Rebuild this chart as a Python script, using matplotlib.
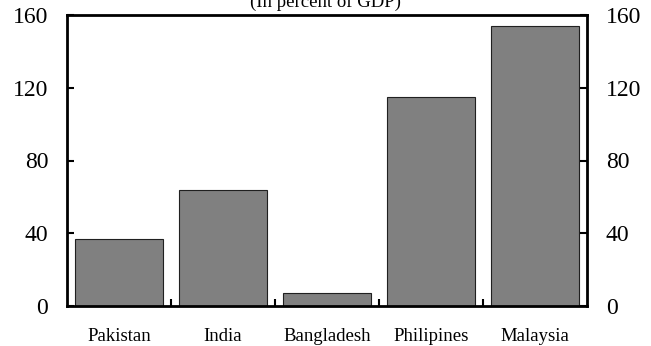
import matplotlib.pyplot as plt
import numpy as np

paises = ["Pakistan", "India", "Bangladesh", "Philipines", "Malaysia"]
valores = [37, 64, 7, 115, 154]
ticks_y = [0, 40, 80, 120, 160]

plt.rcParams["font.family"] = ["Liberation Serif", "DejaVu Serif"]

fig = plt.figure(figsize=(6.51, 3.46), dpi=100)
ax = fig.add_axes([67 / 651, 1 - 306 / 346, 520 / 651, 291 / 346])

x = np.arange(len(paises))
ax.bar(x, valores, width=0.846, color="#808080", edgecolor="#202020", linewidth=0.8)

ax.set_xlim(-0.5, len(paises) - 0.5)
ax.set_ylim(0, 160)
ax.set_yticks(ticks_y)
ax.tick_params(axis="y", direction="in", length=5, width=1.5, labelsize=17,
               left=True, right=True, labelleft=True, labelright=True, pad=13.5)

# categorias no eixo x, marcas entre as barras
ax.set_xticks(x)
ax.set_xticklabels(paises, fontsize=13.5)
ax.tick_params(axis="x", which="major", length=0, pad=16)
ax.set_xticks(x[:-1] + 0.5, minor=True)
ax.tick_params(axis="x", which="minor", direction="in", length=5, width=1.5)

for lado in ["left", "right", "top", "bottom"]:
    ax.spines[lado].set_linewidth(2)

fig.text(0.5, 1 - 7 / 346, "(In percent of GDP)", ha="center", va="baseline", fontsize=13.5)

fig.savefig("out.png", dpi=100)
